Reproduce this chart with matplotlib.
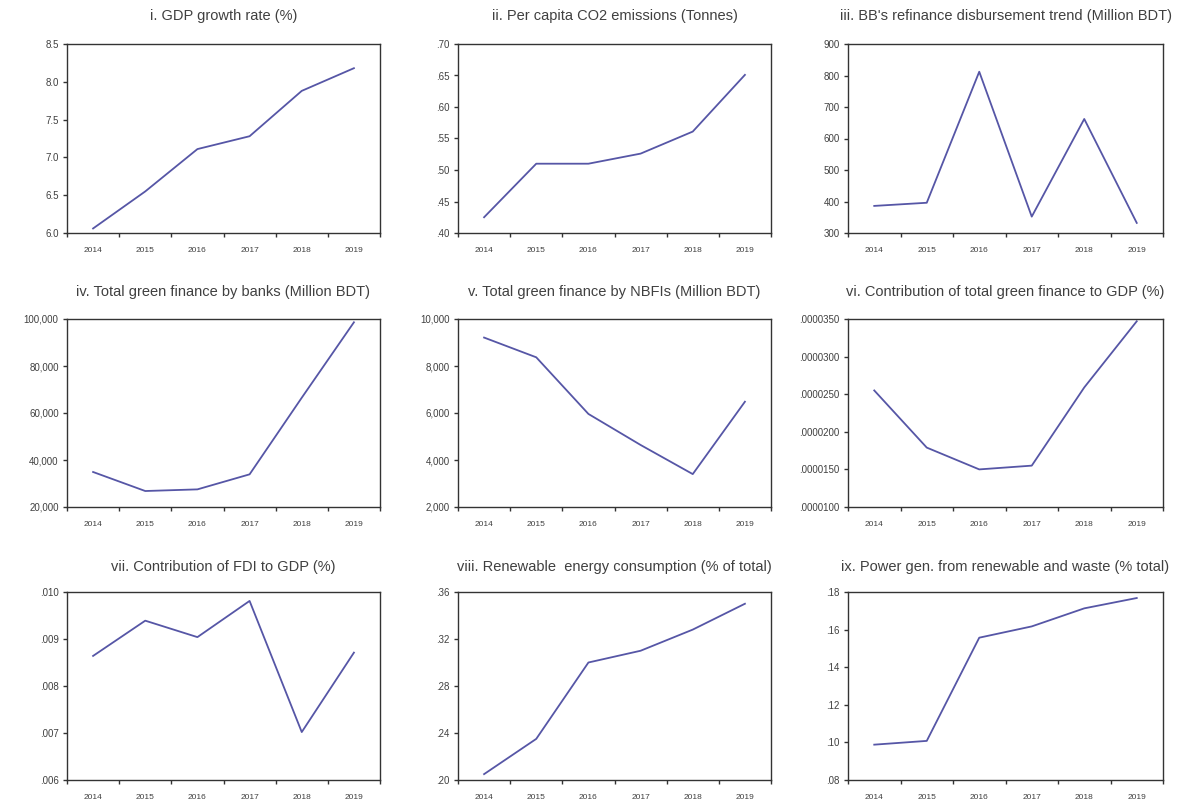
import matplotlib
matplotlib.use("Agg")
import matplotlib.pyplot as plt
from matplotlib.ticker import FuncFormatter, FixedLocator

plt.rcParams['font.family'] = ['Liberation Sans', 'DejaVu Sans']

years = ["2014", "2015", "2016", "2017", "2018", "2019"]

gdp_growth = [6.06, 6.55, 7.11, 7.28, 7.88, 8.18]
co2_per_capita = [0.425, 0.510, 0.510, 0.526, 0.561, 0.651]
bb_refinance = [386, 396, 812, 352, 662, 332]
green_banks = [34900, 26800, 27500, 33900, 66500, 98600]
green_nbfi = [9210, 8370, 5960, 4640, 3400, 6480]
green_gdp = [0.0000255, 0.0000179, 0.0000150, 0.0000155, 0.0000259, 0.0000347]
fdi_gdp = [0.00864, 0.00939, 0.00904, 0.00981, 0.00702, 0.00871]
renew_cons = [0.205, 0.235, 0.300, 0.310, 0.328, 0.350]
power_renew = [0.0988, 0.1008, 0.1557, 0.1617, 0.1713, 0.1768]

titles = [
    "i. GDP growth rate (%)",
    "ii. Per capita CO2 emissions (Tonnes)",
    "iii. BB's refinance disbursement trend (Million BDT)",
    "iv. Total green finance by banks (Million BDT)",
    "v. Total green finance by NBFIs (Million BDT)",
    "vi. Contribution of total green finance to GDP (%)",
    "vii. Contribution of FDI to GDP (%)",
    "viii. Renewable  energy consumption (% of total)",
    "ix. Power gen. from renewable and waste (% total)",
]

series = [gdp_growth, co2_per_capita, bb_refinance, green_banks, green_nbfi,
          green_gdp, fdi_gdp, renew_cons, power_renew]

yticks = [
    [6.0, 6.5, 7.0, 7.5, 8.0, 8.5],
    [0.40, 0.45, 0.50, 0.55, 0.60, 0.65, 0.70],
    [300, 400, 500, 600, 700, 800, 900],
    [20000, 40000, 60000, 80000, 100000],
    [2000, 4000, 6000, 8000, 10000],
    [0.0000100, 0.0000150, 0.0000200, 0.0000250, 0.0000300, 0.0000350],
    [0.006, 0.007, 0.008, 0.009, 0.010],
    [0.20, 0.24, 0.28, 0.32, 0.36],
    [0.08, 0.10, 0.12, 0.14, 0.16, 0.18],
]


def dec_fmt(nd):
    def f(v, pos):
        s = f"{v:.{nd}f}"
        if s.startswith("0."):
            s = s[1:]
        return s
    return FuncFormatter(f)


def comma_fmt(v, pos):
    return f"{int(round(v)):,}"


formatters = [
    FuncFormatter(lambda v, p: f"{v:.1f}"),
    dec_fmt(2),
    FuncFormatter(lambda v, p: f"{int(round(v))}"),
    FuncFormatter(comma_fmt),
    FuncFormatter(comma_fmt),
    dec_fmt(7),
    dec_fmt(3),
    dec_fmt(2),
    dec_fmt(2),
]

W, H = 1178, 807
fig = plt.figure(figsize=(W / 100, H / 100), dpi=100)

col_lr = [(67, 380), (458, 771), (848, 1163)]
row_tb = [(44, 233), (319, 507), (592, 780)]
title_y = [16, 292, 567]

line_color = "#5656a6"
text_color = "#404040"
frame_color = "#333333"

x = list(range(len(years)))

for i in range(9):
    r, c = divmod(i, 3)
    l, rr = col_lr[c]
    t, b = row_tb[r]
    ax = fig.add_axes([l / W, 1 - b / H, (rr - l) / W, (b - t) / H])
    ax.plot(x, series[i], color=line_color, lw=1.3)
    ax.set_xlim(-0.5, len(years) - 0.5)
    yt = yticks[i]
    ax.set_ylim(yt[0], yt[-1])
    ax.yaxis.set_major_locator(FixedLocator(yt))
    ax.yaxis.set_major_formatter(formatters[i])
    ax.xaxis.set_major_locator(FixedLocator([k - 0.5 for k in range(len(years) + 1)]))
    ax.xaxis.set_major_formatter(FuncFormatter(lambda v, p: ""))
    ax.xaxis.set_minor_locator(FixedLocator(x))
    ax.set_xticklabels(years, minor=True)
    ax.tick_params(axis="x", which="major", length=3, width=1, color=frame_color, direction="out")
    ax.tick_params(axis="x", which="minor", length=0, pad=10, labelsize=6, labelcolor=text_color)
    ax.tick_params(axis="y", which="major", length=3, width=1, color=frame_color, direction="out",
                   pad=3, labelsize=7, labelcolor=text_color)
    for sp in ax.spines.values():
        sp.set_color(frame_color)
        sp.set_linewidth(1.0)
    cx = (l + rr) / 2
    fig.text(cx / W, 1 - title_y[r] / H, titles[i], ha="center", va="center",
             fontsize=10.5, color=text_color)

fig.savefig("out.png", dpi=100, facecolor="white")
